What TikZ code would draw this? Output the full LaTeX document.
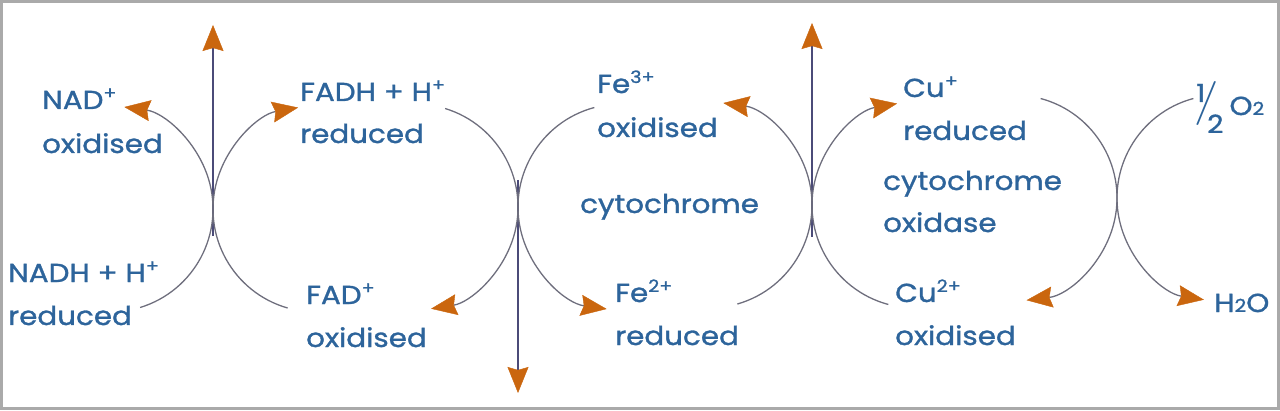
\documentclass[tikz,border=0pt]{standalone}
\usepackage{graphicx}
\usepackage{fontspec}
\setmainfont{Poppins}[FakeStretch=1.13,FakeBold=1.2]
\newfontfamily\slashfont{Latin Modern Roman}
\usetikzlibrary{arrows.meta}
\definecolor{txtblue}{RGB}{45,100,155}
\definecolor{orng}{RGB}{202,102,14}
\definecolor{arcgray}{RGB}{110,110,125}
\definecolor{stemc}{RGB}{75,75,120}
\definecolor{framec}{RGB}{170,170,170}
\newcommand{\upx}[1]{\raisebox{10pt}{\fontsize{17}{17}\selectfont #1}}
\newcommand{\dnx}[1]{{\fontsize{18}{18}\selectfont #1}}
\newcommand{\fsm}{\fontsize{25}{25}\selectfont}
\begin{document}
\begin{tikzpicture}[x=1pt,y=1pt,
  lbl/.style={anchor=base west, inner sep=0pt, text=txtblue, font=\fontsize{26}{26}\selectfont},
  tipo/.style={-{Stealth[length=26pt,width=21pt,inset=3pt,color=orng,fill=orng,line width=0.4pt]}},
  arcline/.style={draw=arcgray, line width=1.3pt, tipo},
  stem/.style={draw=stemc, line width=2pt, tipo}]
\useasboundingbox (0,0) rectangle (1280,410);
\draw[framec, line width=3pt] (1.5,1.5) rectangle (1278.5,408.5);

% labels
\node[lbl] (nad) at (42,301) {NAD\upx{+}};
\node[lbl] (nadox) at (42,257) {oxidised};
\node[lbl] (nadh) at (8,128) {NADH + H\upx{+}};
\node[lbl] (nadhred) at (8,85) {reduced};
\node[lbl] (fadh) at (300,309) {FADH + H\upx{+}};
\node[lbl] (fadhred) at (300,267) {reduced};
\node[lbl] (fad) at (306,106) {FAD\upx{+}};
\node[lbl] (fadox) at (306,63) {oxidised};
\node[lbl] (fe3) at (597,317) {Fe\upx{3+}};
\node[lbl] (fe3ox) at (597,273) {oxidised};
\node[lbl] (cyt) at (580,197) {cytochrome};
\node[lbl] (fe2) at (615,108) {Fe\upx{2+}};
\node[lbl] (fe2red) at (615,65) {reduced};
\node[lbl] (cu1) at (903,313) {Cu\upx{+}};
\node[lbl] (cu1red) at (903,270) {reduced};
\node[lbl] (cox1) at (883,220) {cytochrome};
\node[lbl] (cox2) at (883,178) {oxidase};
\node[lbl] (cu2) at (895,108) {Cu\upx{2+}};
\node[lbl] (cu2ox) at (895,65) {oxidised};
\node[lbl] (oxy) at (1194,295) {\rlap{\kern2pt\raisebox{13pt}{\fsm 1}}\rlap{\slashfont\fontsize{44}{44}\selectfont\scalebox{1.2}[1]{/}}\kern13pt\raisebox{-18pt}{\fsm 2}\kern6pt O\dnx{2}};
\node[lbl] (water) at (1214,98) {H\dnx{2}O};

% arc centres
\coordinate (c1L) at (110,201);
\coordinate (c1R) at (316,201);
\coordinate (c2L) at (415,203);
\coordinate (c2R) at (621,203);
\coordinate (c3L) at (709,205);
\coordinate (c3R) at (915,205);
\coordinate (c4L) at (1014,212);
\coordinate (c4R) at (1220,212);

% stems
\coordinate (s1a) at (213,174); \coordinate (s1b) at (213,385);
\coordinate (s2a) at (518,230); \coordinate (s2b) at (518,17);
\coordinate (s3a) at (812,173); \coordinate (s3b) at (812,387);
\draw[stem] (s1a) -- (s1b);
\draw[stem] (s2a) -- (s2b);
\draw[stem] (s3a) -- (s3b);

% arcs
\draw[arcline] (c1L) ++(-73:103) arc[start angle=-73, end angle=82, radius=103];
\draw[arcline] (c1R) ++(254:103) arc[start angle=254, end angle=100, radius=103];
\draw[arcline] (c2L) ++(73:103) arc[start angle=73, end angle=-81, radius=103];
\draw[arcline] (c2R) ++(105:103) arc[start angle=105, end angle=262, radius=103];
\draw[arcline] (c3L) ++(-74:103) arc[start angle=-74, end angle=82, radius=103];
\draw[arcline] (c3R) ++(255:103) arc[start angle=255, end angle=100, radius=103];
\draw[arcline] (c4L) ++(75:103) arc[start angle=75, end angle=-83, radius=103];
\draw[arcline] (c4R) ++(105:103) arc[start angle=105, end angle=261, radius=103];
\end{tikzpicture}
\end{document}
